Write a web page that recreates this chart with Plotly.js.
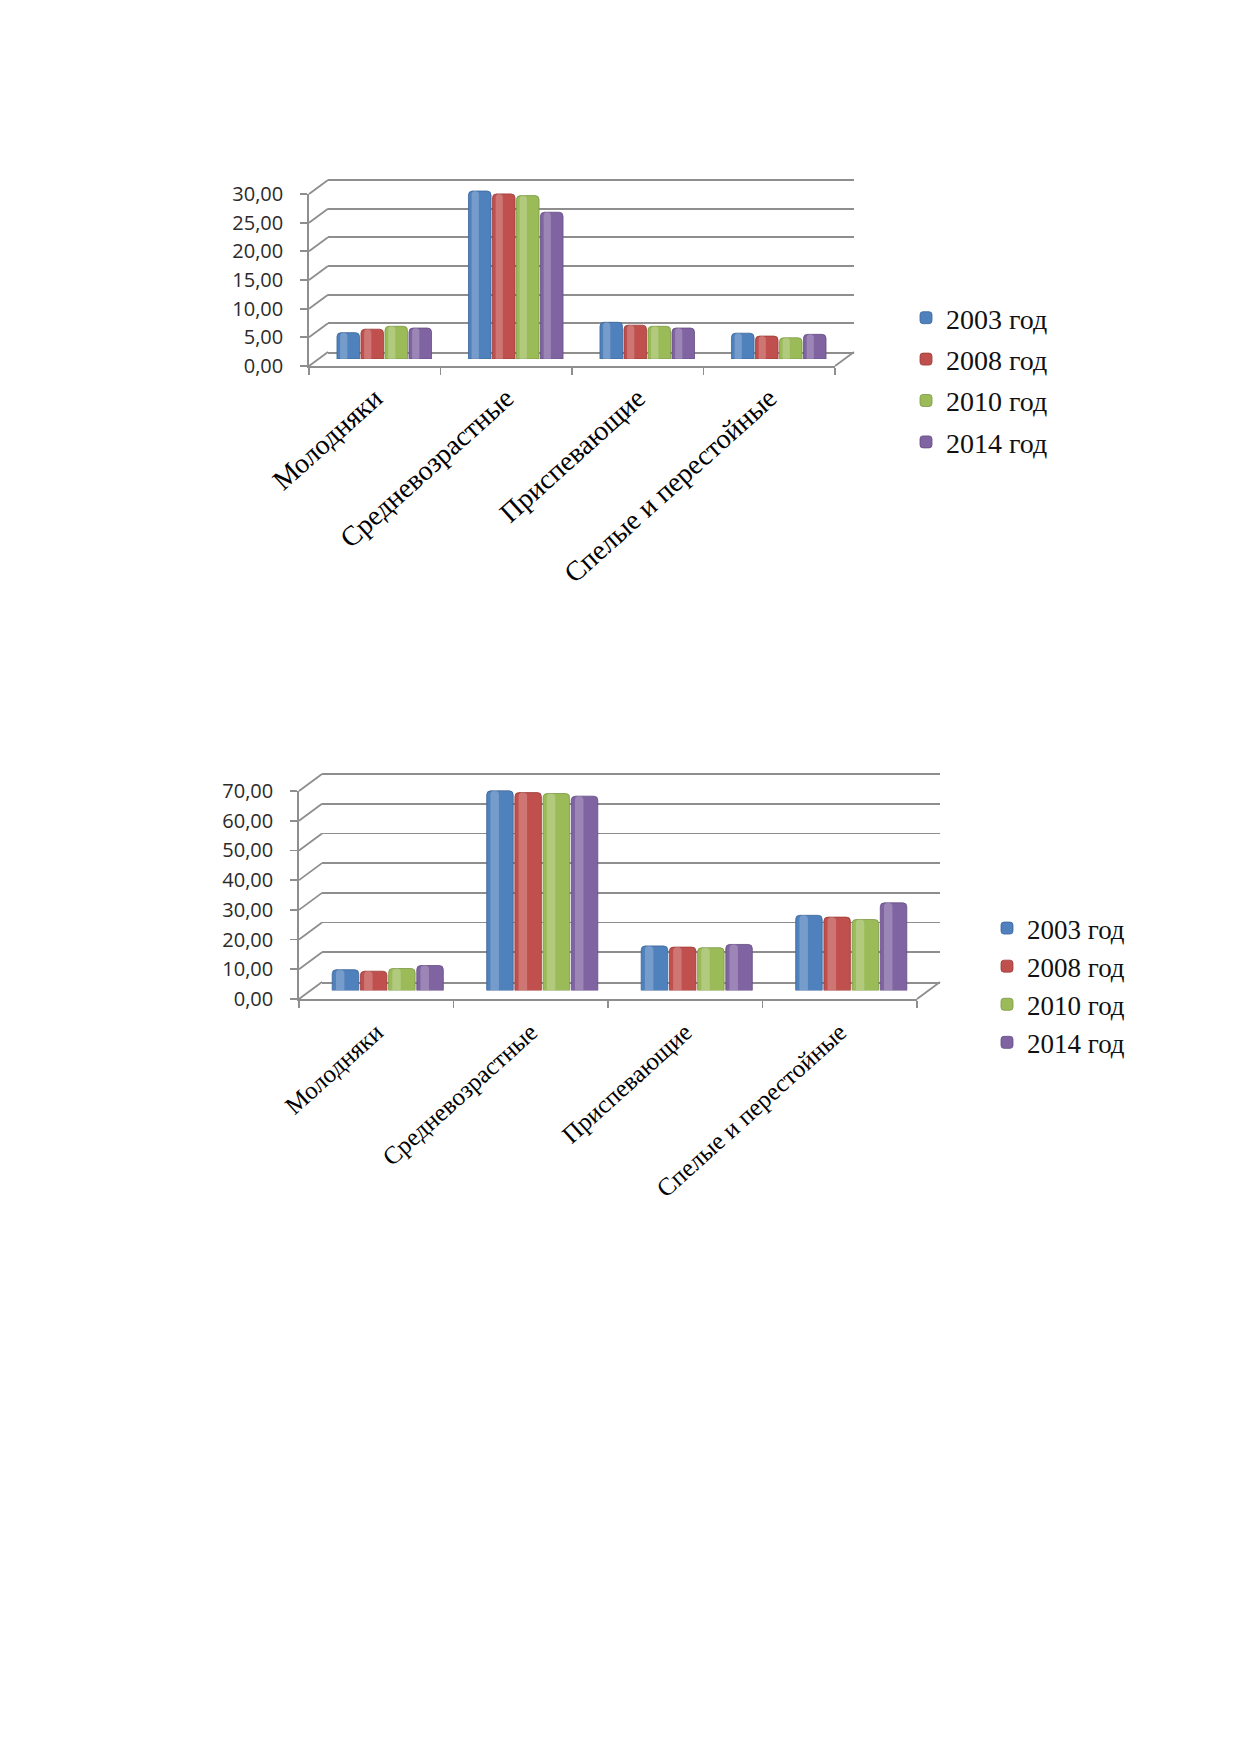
<!DOCTYPE html>
<html>
<head>
<meta charset="utf-8">
<script src="https://cdn.plot.ly/plotly-3.0.1.min.js"></script>
<style>
  html, body { margin: 0; padding: 0; background: #ffffff; }
  #page { width: 1239px; height: 1752px; }
</style>
</head>
<body>
<div id="page"></div>
<script>
// Данные
const categories = ['Молодняки', 'Средневозрастные', 'Приспевающие', 'Спелые и перестойные'];
const years = ['2003 год', '2008 год', '2010 год', '2014 год'];
const yearColors = ['#4F81BD', '#C0504D', '#9BBB59', '#8064A2'];
const yearEdges = ['#3c6699', '#9c3c39', '#7b9845', '#634c83'];

// верхняя диаграмма
const top2003 = [4.6, 29.3, 6.4, 4.5];
const top2008 = [5.2, 28.8, 5.9, 4.0];
const top2010 = [5.7, 28.5, 5.7, 3.7];
const top2014 = [5.4, 25.6, 5.4, 4.3];

// нижняя диаграмма
const bottom2003 = [7.0, 67.2, 15.0, 25.3];
const bottom2008 = [6.5, 66.6, 14.6, 24.7];
const bottom2010 = [7.4, 66.3, 14.4, 23.9];
const bottom2014 = [8.4, 65.4, 15.5, 29.5];

const W = 1239, H = 1752;
const gridColor = '#8e8e8e';

function px(x) { return x / W; }
function py(y) { return 1 - y / H; }
function axKey(id) { return id.replace('x', 'xaxis').replace('y', 'yaxis'); }

// геометрия "3D" диаграмм в пикселях страницы
const chart1 = {
    left: 309, right: 835, base: 366, top: 194, max: 30, step: 5, dx: 19, dy: 14,
    back: ['x', 'y'], front: ['x2', 'y2'], bars: ['x3', 'y3'],
    labelStandoff: 3, labelSize: 28, legend: 'legend', group: 'a'
};
const chart2 = {
    left: 299, right: 917, base: 999, top: 791, max: 70, step: 10, dx: 23, dy: 17,
    back: ['x4', 'y4'], front: ['x5', 'y5'], bars: ['x6', 'y6'],
    labelStandoff: 7, labelSize: 25, legend: 'legend2', group: 'b'
};

const traces = [];
const layout = {
    width: W, height: H,
    margin: { l: 0, r: 0, t: 0, b: 0 },
    paper_bgcolor: '#ffffff',
    plot_bgcolor: 'rgba(0,0,0,0)',
    separators: ', ',
    barmode: 'overlay',
    barcornerradius: 4,
    showlegend: true,
    shapes: []
};

function buildChart(g, series) {
    const n = categories.length;
    const ppu = (g.base - g.top) / g.max;
    const backMax = g.max * 1.05;

    // задняя стенка с линиями сетки
    layout[axKey(g.back[0])] = {
        domain: [px(g.left + g.dx), px(g.right + g.dx)], anchor: g.back[1],
        range: [0, 1], showline: true, linecolor: gridColor, linewidth: 1.8,
        showgrid: false, zeroline: false, showticklabels: false, ticks: '', fixedrange: true
    };
    layout[axKey(g.back[1])] = {
        domain: [py(g.base - g.dy), py(g.base - g.dy - backMax * ppu)], anchor: g.back[0],
        range: [0, backMax], tick0: 0, dtick: g.step,
        showgrid: true, gridcolor: gridColor, gridwidth: 1.8,
        zeroline: false, showticklabels: false, showline: false, ticks: '', fixedrange: true
    };
    traces.push({ type: 'scatter', x: [], y: [], xaxis: g.back[0], yaxis: g.back[1], showlegend: false, hoverinfo: 'skip' });

    // передние оси с подписями категорий
    layout[axKey(g.front[0])] = {
        domain: [px(g.left), px(g.right)], anchor: g.front[1],
        type: 'category', categoryorder: 'array', categoryarray: categories,
        range: [-0.5, n - 0.5], tickson: 'boundaries',
        ticks: 'outside', ticklen: 7, tickwidth: 1.8, tickcolor: gridColor,
        showline: true, linecolor: gridColor, linewidth: 1.8,
        tickangle: -42, ticklabelstandoff: g.labelStandoff,
        tickfont: { family: 'Liberation Serif, Times New Roman, serif', size: g.labelSize, color: '#000000' },
        showgrid: false, zeroline: false, fixedrange: true
    };
    layout[axKey(g.front[1])] = {
        domain: [py(g.base), py(g.top)], anchor: g.front[0],
        range: [0, g.max], tick0: 0, dtick: g.step, tickformat: '.2f',
        ticks: 'outside', ticklen: 7, tickwidth: 1.8, tickcolor: gridColor,
        showline: true, linecolor: gridColor, linewidth: 1.8,
        ticklabelstandoff: 13,
        tickfont: { family: 'Open Sans, Liberation Sans, sans-serif', size: 20, color: '#2b2b2b' },
        showgrid: false, zeroline: false, fixedrange: true
    };
    traces.push({
        type: 'scatter', mode: 'markers', x: categories, y: categories.map(() => 0),
        xaxis: g.front[0], yaxis: g.front[1], marker: { opacity: 0 },
        showlegend: false, hoverinfo: 'skip', cliponaxis: true
    });

    // столбики на средней глубине
    layout[axKey(g.bars[0])] = {
        domain: [px(g.left + g.dx / 2), px(g.right + g.dx / 2)], anchor: g.bars[1],
        type: 'category', categoryorder: 'array', categoryarray: categories,
        range: [-0.5, n - 0.5], visible: false, fixedrange: true
    };
    layout[axKey(g.bars[1])] = {
        domain: [py(g.base - g.dy / 2), py(g.top - g.dy / 2)], anchor: g.bars[0],
        range: [0, g.max], visible: false, fixedrange: true
    };

    const groupWidth = 0.73;
    const slot = groupWidth / series.length;
    const bw = slot * 0.94;
    series.forEach((vals, i) => {
        const off = -groupWidth / 2 + i * slot + slot * 0.03;
        traces.push({
            type: 'bar', x: categories, y: vals, name: years[i],
            xaxis: g.bars[0], yaxis: g.bars[1],
            legend: g.legend, legendgroup: g.group + i,
            offset: off, width: bw,
            marker: { color: yearColors[i], line: { color: yearEdges[i], width: 0.8 } },
            hoverinfo: 'skip'
        });
        // блик цилиндра
        traces.push({
            type: 'bar', x: categories, y: vals, name: years[i],
            xaxis: g.bars[0], yaxis: g.bars[1],
            legendgroup: g.group + i, showlegend: false,
            offset: off + bw * 0.14, width: bw * 0.32,
            marker: { color: 'rgba(255,255,255,0.22)', line: { width: 0 } },
            hoverinfo: 'skip'
        });
    });

    // диагонали левой стенки и пола
    for (let v = 0; v <= g.max; v += g.step) {
        layout.shapes.push({
            type: 'line', xref: 'paper', yref: 'paper', layer: 'below',
            x0: px(g.left), y0: py(g.base - v * ppu),
            x1: px(g.left + g.dx), y1: py(g.base - g.dy - v * ppu),
            line: { color: gridColor, width: 1.8 }
        });
    }
    layout.shapes.push({
        type: 'line', xref: 'paper', yref: 'paper', layer: 'below',
        x0: px(g.right), y0: py(g.base), x1: px(g.right + g.dx), y1: py(g.base - g.dy),
        line: { color: gridColor, width: 1.8 }
    });
}

buildChart(chart1, [top2003, top2008, top2010, top2014]);
buildChart(chart2, [bottom2003, bottom2008, bottom2010, bottom2014]);

layout.legend = {
    x: px(906), y: py(293), xanchor: 'left', yanchor: 'top',
    bgcolor: 'rgba(0,0,0,0)', tracegroupgap: 2, traceorder: 'grouped',
    font: { family: 'Liberation Serif, Times New Roman, serif', size: 28, color: '#111111' }
};
layout.legend2 = {
    x: px(987), y: py(904), xanchor: 'left', yanchor: 'top',
    bgcolor: 'rgba(0,0,0,0)', traceorder: 'normal',
    font: { family: 'Liberation Serif, Times New Roman, serif', size: 27, color: '#111111' }
};

Plotly.newPlot('page', traces, layout, { displayModeBar: false, staticPlot: true });
</script>
</body>
</html>
